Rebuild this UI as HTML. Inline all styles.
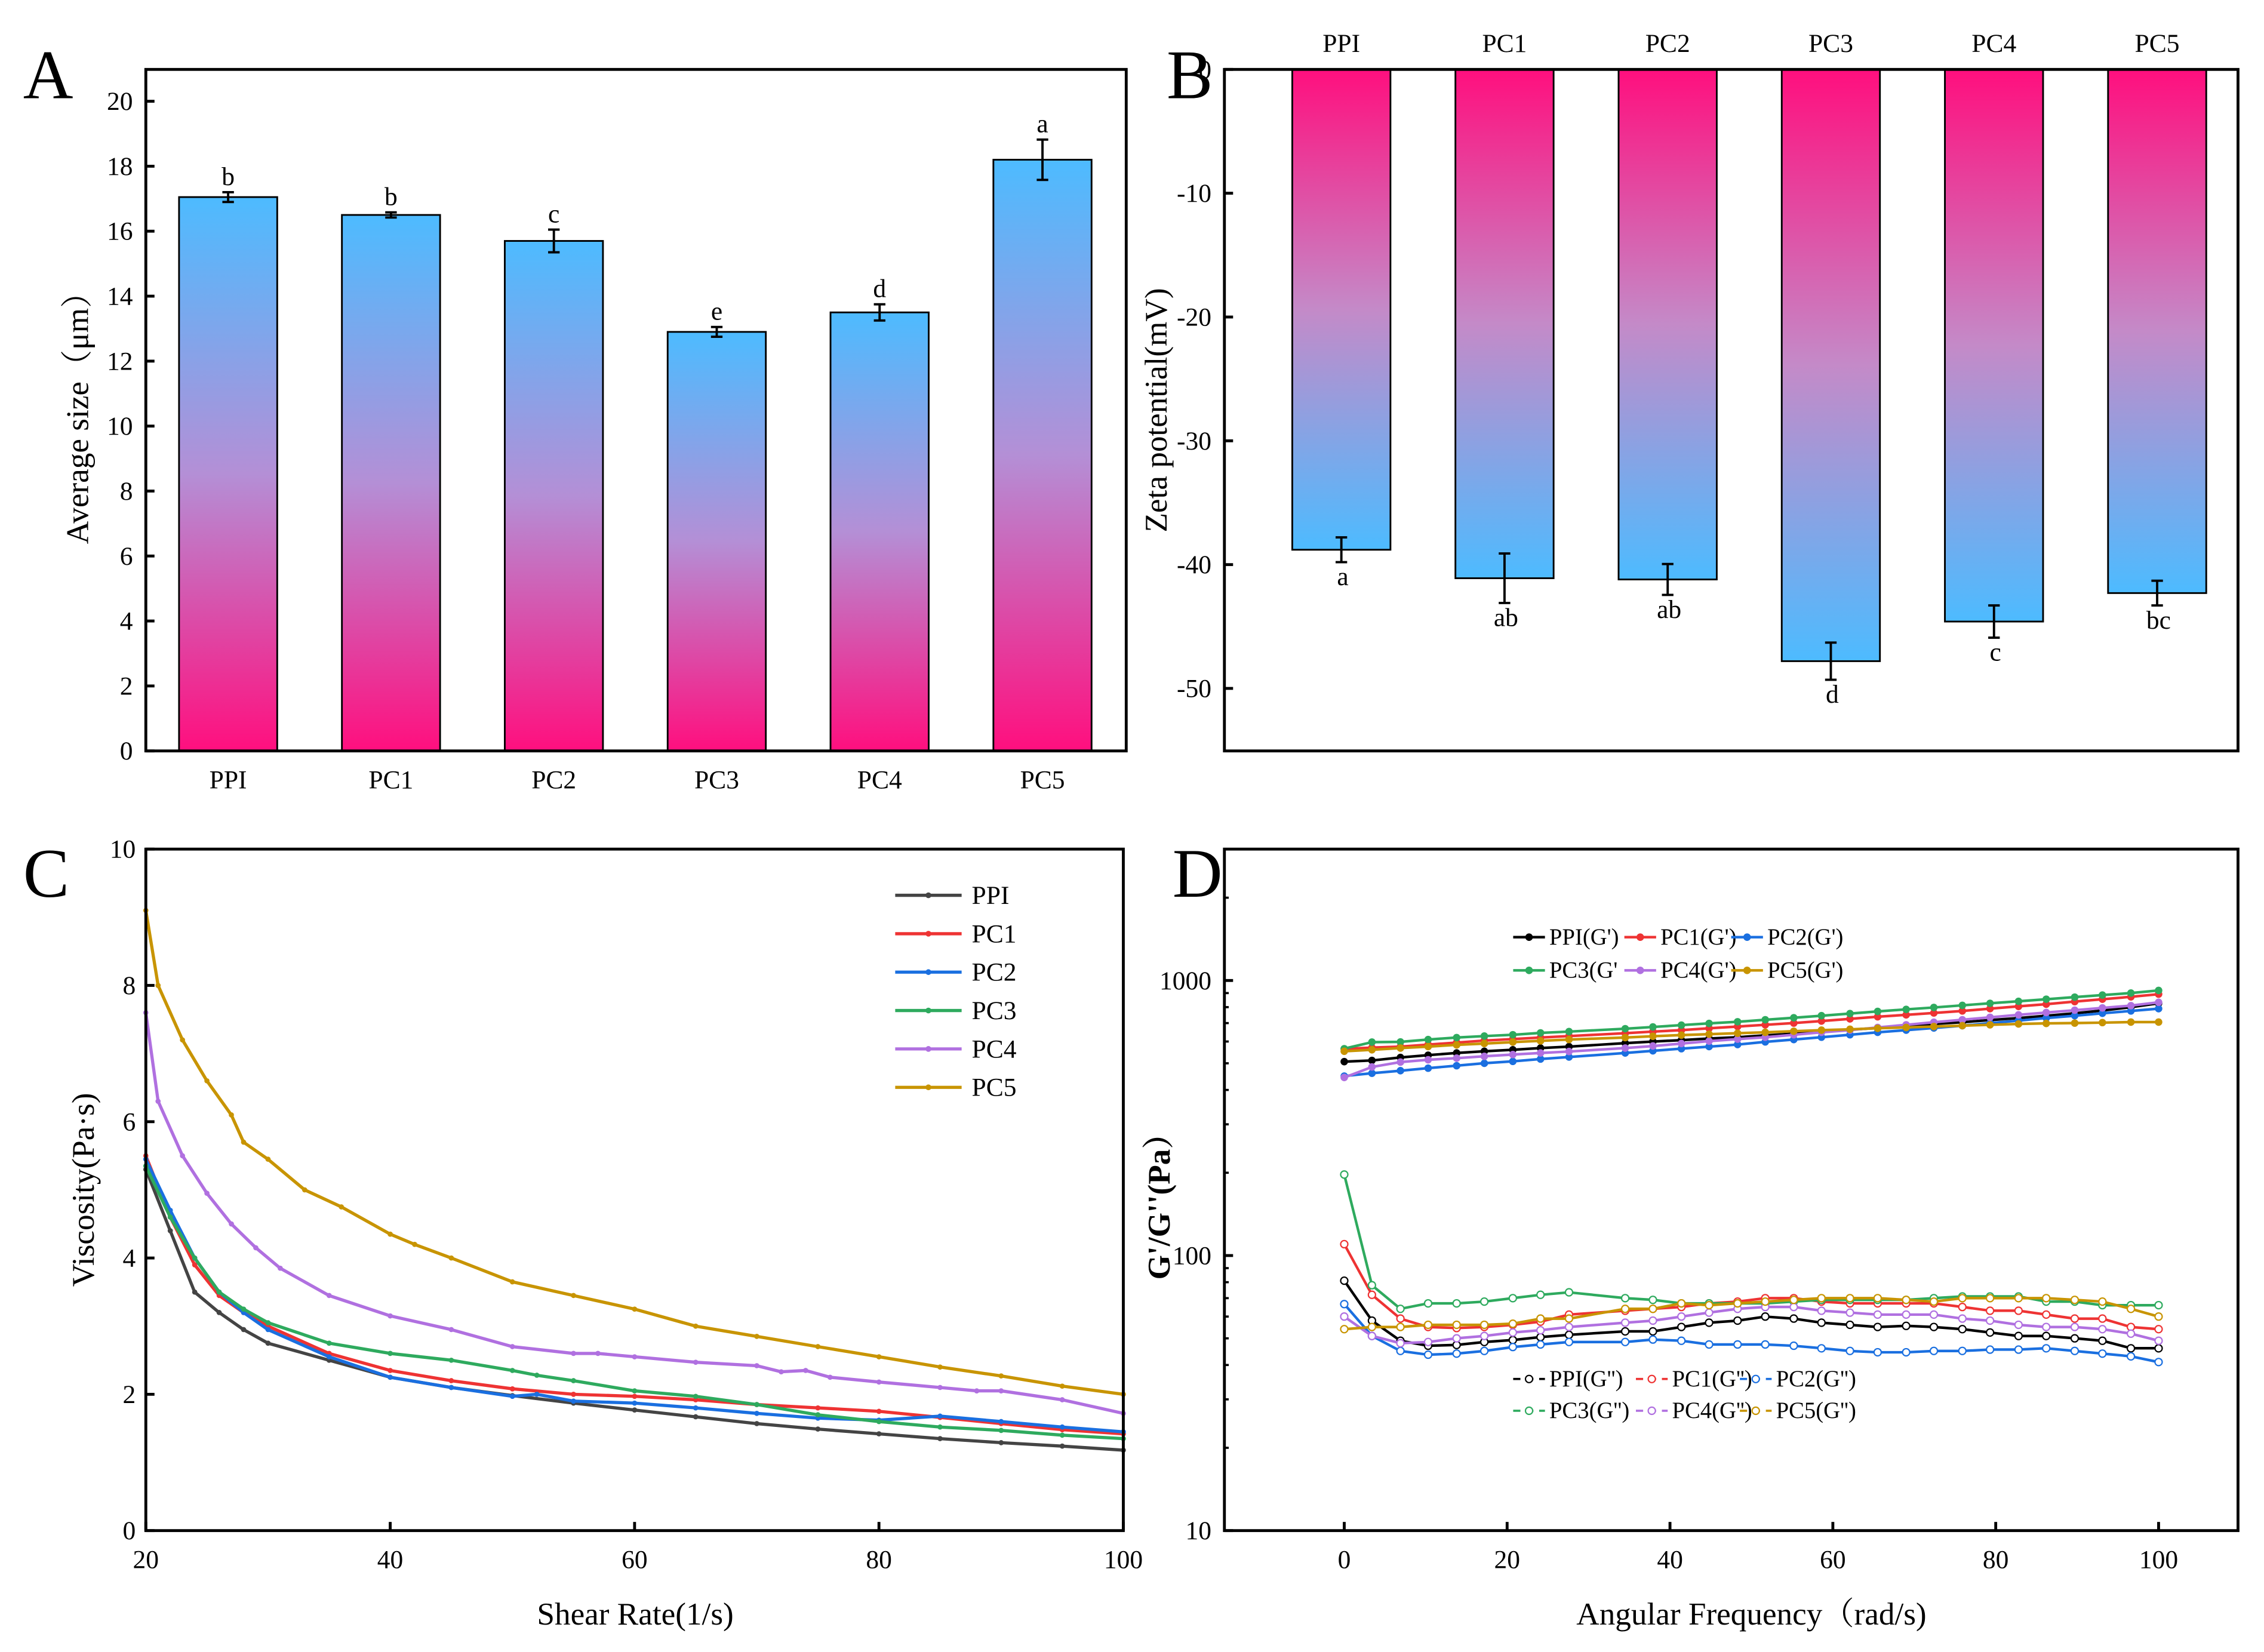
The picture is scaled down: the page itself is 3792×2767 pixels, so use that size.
<!DOCTYPE html>
<html><head><meta charset="utf-8"><style>html,body{margin:0;padding:0;background:#fff}svg{display:block}text{font-family:"Liberation Serif","Noto Serif CJK SC",serif;fill:#000}</style></head>
<body>
<svg id="fig" xmlns="http://www.w3.org/2000/svg" width="3792" height="2767" viewBox="0 0 1568 1144">
<defs>
<linearGradient id="gA" x1="0" y1="0" x2="0" y2="1"><stop offset="0" stop-color="#4dbbff"/><stop offset="0.5" stop-color="#b48fd6"/><stop offset="1" stop-color="#ff0f7e"/></linearGradient>
<linearGradient id="gB" x1="0" y1="0" x2="0" y2="1"><stop offset="0" stop-color="#ff0f7e"/><stop offset="0.5" stop-color="#c48ac8"/><stop offset="1" stop-color="#4dbbff"/></linearGradient>
</defs>
<rect width="1568" height="1144" fill="#fff"/>
</svg>
<script>
// Panel A
const catA=["PPI","PC1","PC2","PC3","PC4","PC5"];
const sizeVals=[17.05,16.5,15.7,12.9,13.5,18.2];
const sizeErr=[0.15,0.08,0.35,0.15,0.25,0.62];
const sizeLetters=["b","b","c","e","d","a"];
const sizeTicks=[0,2,4,6,8,10,12,14,16,18,20];
// Panel B
const zetaVals=[-38.8,-41.1,-41.2,-47.8,-44.6,-42.3];
const zetaErr=[1.0,2.0,1.25,1.5,1.3,1.0];
const zetaLetters=["a","ab","ab","d","c","bc"];
const zetaTicks=[0,-10,-20,-30,-40,-50];
// Panel C
const viscNames=["PPI","PC1","PC2","PC3","PC4","PC5"];
const viscColors=["#444","#ee3333","#1a6fe0","#2eaa5e","#b070e0","#c89400"];
const shearPPI=[20,22,24,26,28,30,35,40,45,50,55,60,65,70,75,80,85,90,95,100];
const viscPPI=[5.3,4.4,3.5,3.2,2.95,2.75,2.5,2.25,2.1,1.98,1.87,1.77,1.67,1.57,1.49,1.42,1.35,1.29,1.24,1.18];
const shearPC1=[20,22,24,26,28,30,35,40,45,50,55,60,65,70,75,80,85,90,95,100];
const viscPC1=[5.5,4.6,3.9,3.45,3.2,3.0,2.6,2.35,2.2,2.08,2.0,1.97,1.92,1.85,1.8,1.75,1.66,1.57,1.48,1.42];
const shearPC2=[20,22,24,26,28,30,35,40,45,50,52,55,60,65,70,75,80,85,90,95,100];
const viscPC2=[5.45,4.7,4.0,3.5,3.2,2.95,2.55,2.25,2.1,1.97,2.0,1.9,1.87,1.8,1.72,1.65,1.62,1.68,1.6,1.52,1.45];
const shearPC3=[20,22,24,26,28,30,35,40,45,50,52,55,60,65,70,75,80,85,90,95,100];
const viscPC3=[5.35,4.6,4.0,3.5,3.25,3.05,2.75,2.6,2.5,2.35,2.28,2.2,2.05,1.97,1.85,1.7,1.6,1.52,1.47,1.4,1.35];
const shearPC4=[20,21,23,25,27,29,31,35,40,45,50,55,57,60,65,70,72,74,76,80,85,88,90,95,100];
const viscPC4=[7.6,6.3,5.5,4.95,4.5,4.15,3.85,3.45,3.15,2.95,2.7,2.6,2.6,2.55,2.47,2.42,2.33,2.35,2.25,2.18,2.1,2.05,2.05,1.92,1.72];
const shearPC5=[20,21,23,25,27,28,30,33,36,40,42,45,50,55,60,65,70,75,80,85,90,95,100];
const viscPC5=[9.1,8.0,7.2,6.6,6.1,5.7,5.45,5.0,4.75,4.35,4.2,4.0,3.65,3.45,3.25,3.0,2.85,2.7,2.55,2.4,2.27,2.12,2.0];
const viscTicksY=[0,2,4,6,8,10];
const viscTicksX=[20,40,60,80,100];
// Panel D
const freq=[0,3.4,6.9,10.3,13.8,17.2,20.7,24.1,27.6,34.5,37.9,41.4,44.8,48.3,51.7,55.2,58.6,62.1,65.5,69,72.4,75.9,79.3,82.8,86.2,89.7,93.1,96.6,100];
const gpPPI=[507,512,525,535,545,553,560,568,575,592,600,607,615,622,632,641,650,662,672,682,695,705,718,730,745,760,778,800,826];
const gpPC1=[564,570,575,585,595,605,612,620,628,643,652,660,670,680,690,700,712,725,738,750,762,775,790,805,820,838,855,872,892];
const gpPC2=[449,460,470,480,490,500,508,518,527,545,555,565,575,585,598,610,622,635,648,660,672,685,700,715,730,745,760,775,790];
const gpPC3=[565,597,598,610,620,628,635,645,652,668,678,688,698,708,720,732,745,758,772,785,798,812,826,840,855,870,885,900,920];
const gpPC4=[444,485,505,515,522,530,538,545,552,568,578,590,602,612,622,635,648,660,675,690,705,720,735,750,765,780,795,810,833];
const gpPC5=[553,560,568,575,583,590,597,603,610,620,627,633,638,643,648,654,660,665,670,675,680,685,690,695,698,700,703,706,706];
const gppPPI=[81,58,49,47,47.3,48.5,49.3,50.5,51.5,53,53,55,57,58,60,59,57,56,55,55.5,55,54,52.5,51,51,50,49,46,46];
const gppPC1=[110,72,59,55,54.5,55,56,57.5,61,63,64,65,67,68,70,70,68,67,67,67,67,65,63,63,61,59,59,55,54];
const gppPC2=[66.6,51,45,43.6,44,45,46.5,47.5,48.5,48.5,49.5,49,47.5,47.5,47.5,47,46,45,44.5,44.5,45,45,45.5,45.5,46,45,44,43,41];
const gppPC3=[197,78,64,67,67,68,70,72,73.5,70,69,67,67,67,67,68,69,69,69,69,70,71,71,71,68,68,66,66,66];
const gppPC4=[60,51,48,48.5,50,51,52.5,53.5,55,57,58,60,62,64,65,65,63,62,61,61,61,59,58,56,55,55,54,52,49];
const gppPC5=[54,55,55,56,56,56,56.5,59,59,64,64,67,66,67,68,69,70,70,70,69,68,70,70,70,70,69,68,64,60];
const dTicks=[10,100,1000];
const dTicksX=[0,20,40,60,80,100];

const NS="http://www.w3.org/2000/svg";
const svg=document.getElementById('fig');
function mk(tag,attrs,parent,txt){const e=document.createElementNS(NS,tag);for(const k in attrs)e.setAttribute(k,attrs[k]);if(txt!==undefined)e.textContent=txt;(parent||svg).appendChild(e);return e;}
const TF=18, TT=22;

// ---------- Panel A ----------
const A={l:101,r:780,t:48,b:520,min:0,max:20.98};
const yA=v=>A.b-(v-A.min)/(A.max-A.min)*(A.b-A.t);
const xA=i=>158+i*112.8;
let gA=mk('g',{});


catA.forEach((c,i)=>{
  const x=xA(i),v=sizeVals[i],e=sizeErr[i];
  const r=mk('rect',{x:x-34,y:yA(v),width:68,height:yA(0)-yA(v),fill:'url(#gA)',stroke:'#000','stroke-width':1.2},gA);
  
  
  const eb=mk('path',{d:`M${x},${yA(v+e)}V${yA(v-e)}M${x-4},${yA(v+e)}H${x+4}M${x-4},${yA(v-e)}H${x+4}`,stroke:'#000','stroke-width':1.6,fill:'none'},gA);
  
  
  const lt=mk('text',{x:x,y:yA(v+e)-5,'font-size':TF,'text-anchor':'middle'},gA,sizeLetters[i]);
  
  
  const cl=mk('text',{x:x,y:546,'font-size':TF,'text-anchor':'middle'},gA,c);
  
  
});
sizeTicks.forEach(t=>{
  mk('line',{x1:A.l,x2:A.l+6,y1:yA(t),y2:yA(t),stroke:'#000','stroke-width':2},gA);
  const tl=mk('text',{x:A.l-9,y:yA(t)+6,'font-size':TF,'text-anchor':'end'},gA,t);
  
  
});
mk('rect',{x:A.l,y:A.t,width:A.r-A.l,height:A.b-A.t,fill:'none',stroke:'#000','stroke-width':2},gA);
let t=mk('text',{x:0,y:0,'font-size':TT,'text-anchor':'middle',transform:'translate(61,284) rotate(-90)'},gA,'Average size（μm）');

t=mk('text',{x:16,y:68,'font-size':48},gA,'A');


// ---------- Panel B ----------
const B={l:848,r:1550,t:48,b:520,min:-55.05,max:0};
const yB=v=>B.t+(B.max-v)/(B.max-B.min)*(B.b-B.t);
const xB=i=>929+i*113;
let gB=mk('g',{});


catA.forEach((c,i)=>{
  const x=xB(i),v=zetaVals[i],e=zetaErr[i];
  const r=mk('rect',{x:x-34,y:yB(0),width:68,height:yB(v)-yB(0),fill:'url(#gB)',stroke:'#000','stroke-width':1.2},gB);
  
  
  const eb=mk('path',{d:`M${x},${yB(v+e)}V${yB(v-e)}M${x-4},${yB(v+e)}H${x+4}M${x-4},${yB(v-e)}H${x+4}`,stroke:'#000','stroke-width':1.6,fill:'none'},gB);
  
  
  const lt=mk('text',{x:x+1,y:yB(v-e)+16,'font-size':TF,'text-anchor':'middle'},gB,zetaLetters[i]);
  
  
  const cl=mk('text',{x:x,y:36,'font-size':TF,'text-anchor':'middle'},gB,c);
  
  
});
zetaTicks.forEach(tk=>{
  mk('line',{x1:B.l,x2:B.l+6,y1:yB(tk),y2:yB(tk),stroke:'#000','stroke-width':2},gB);
  const tl=mk('text',{x:B.l-9,y:yB(tk)+6,'font-size':TF,'text-anchor':'end'},gB,tk<0?'-'+(-tk):tk);
  
  
});
mk('rect',{x:B.l,y:B.t,width:B.r-B.l,height:B.b-B.t,fill:'none',stroke:'#000','stroke-width':2},gB);
t=mk('text',{x:0,y:0,'font-size':TT,'text-anchor':'middle',transform:'translate(808,284) rotate(-90)'},gB,'Zeta potential(mV)');

t=mk('text',{x:808,y:68,'font-size':48},gB,'B');


// ---------- Panel C ----------
const C={l:101,r:778,t:588,b:1060};
const xC=v=>C.l+(v-20)/80*(C.r-C.l);
const yC=v=>C.b-v/10*(C.b-C.t);
let gC=mk('g',{});


const cx=[shearPPI,shearPC1,shearPC2,shearPC3,shearPC4,shearPC5];
const cy=[viscPPI,viscPC1,viscPC2,viscPC3,viscPC4,viscPC5];
viscNames.forEach((n,s)=>{
  const pts=cx[s].map((x,i)=>xC(x).toFixed(1)+','+yC(cy[s][i]).toFixed(1)).join(' ');
  const pl=mk('polyline',{points:pts,fill:'none',stroke:viscColors[s],'stroke-width':2.2,'stroke-linejoin':'round'},gC);
  
  
  cx[s].forEach((x,i)=>{
    const m=mk('circle',{cx:xC(x),cy:yC(cy[s][i]),r:1.8,fill:viscColors[s]},gC);
    
    
  });
  const ly=620+s*26.6;
  const lg=mk('g',{},gC);
  
  
  mk('line',{x1:620,x2:666,y1:ly,y2:ly,stroke:viscColors[s],'stroke-width':2.2},lg);
  mk('circle',{cx:643,cy:ly,r:2,fill:viscColors[s]},lg);
  mk('text',{x:673,y:ly+6,'font-size':TF},lg,n);
});
viscTicksY.forEach(tk=>{
  mk('line',{x1:C.l,x2:C.l+6,y1:yC(tk),y2:yC(tk),stroke:'#000','stroke-width':2},gC);
  const tl=mk('text',{x:C.l-7,y:yC(tk)+6,'font-size':TF,'text-anchor':'end'},gC,tk);
  
});
viscTicksX.forEach(tk=>{
  mk('line',{x1:xC(tk),x2:xC(tk),y1:C.b,y2:C.b-6,stroke:'#000','stroke-width':2},gC);
  const tl=mk('text',{x:xC(tk),y:C.b+26,'font-size':TF,'text-anchor':'middle'},gC,tk);
  
});
mk('rect',{x:C.l,y:C.t,width:C.r-C.l,height:C.b-C.t,fill:'none',stroke:'#000','stroke-width':2},gC);
t=mk('text',{x:0,y:0,'font-size':TT,'text-anchor':'middle',transform:'translate(65,824) rotate(-90)'},gC,'Viscosity(Pa·s)');

t=mk('text',{x:440,y:1125,'font-size':TT,'text-anchor':'middle'},gC,'Shear Rate(1/s)');

t=mk('text',{x:16,y:621,'font-size':48},gC,'C');


// ---------- Panel D ----------
const D={l:848,r:1550,t:588,b:1060};
const xD=v=>931+v*5.64;
const yD=v=>1060-(Math.log10(v)-1)*190.5;
let gD=mk('g',{});


const dColors=["#000","#ee3333","#1a6fe0","#2eaa5e","#b070e0","#c89400"];
const gpS=[gpPPI,gpPC1,gpPC2,gpPC3,gpPC4,gpPC5];
const gppS=[gppPPI,gppPC1,gppPC2,gppPC3,gppPC4,gppPC5];
gpS.forEach((arr,s)=>{
  const pl=mk('polyline',{points:freq.map((x,i)=>xD(x).toFixed(1)+','+yD(arr[i]).toFixed(1)).join(' '),fill:'none',stroke:dColors[s],'stroke-width':1.8},gD);
  
  
  freq.forEach((x,i)=>{const m=mk('circle',{cx:xD(x),cy:yD(arr[i]),r:2.6,fill:dColors[s]},gD);
    });
});
gppS.forEach((arr,s)=>{
  const pl=mk('polyline',{points:freq.map((x,i)=>xD(x).toFixed(1)+','+yD(arr[i]).toFixed(1)).join(' '),fill:'none',stroke:dColors[s],'stroke-width':1.8},gD);
  
  
  freq.forEach((x,i)=>{const m=mk('circle',{cx:xD(x),cy:yD(arr[i]),r:2.5,fill:'#fff',stroke:dColors[s],'stroke-width':0.9},gD);
    });
});
const lgX=[1048,1125,1199];
viscNames.forEach((n,s)=>{
  const col=s%3,row=Math.floor(s/3);
  const x=lgX[col],y=649+row*23;
  const lg=mk('g',{},gD);
  
  
  mk('line',{x1:x,x2:x+22,y1:y,y2:y,stroke:dColors[s],'stroke-width':1.8},lg);
  mk('circle',{cx:x+11,cy:y,r:2.6,fill:dColors[s]},lg);
  mk('text',{x:x+25,y:y+5,'font-size':16},lg,s===3?"PC3(G'":n+"(G')");
});
const lg2X=[1048,1133,1205];
viscNames.forEach((n,s)=>{
  const col=s%3,row=Math.floor(s/3);
  const x=lg2X[col],y=955+row*22;
  const lg=mk('g',{},gD);
  
  
  mk('line',{x1:x,x2:x+22,y1:y,y2:y,stroke:dColors[s],'stroke-width':1.5,'stroke-dasharray':'5,4'},lg);
  mk('circle',{cx:x+11,cy:y,r:2.5,fill:'#fff',stroke:dColors[s],'stroke-width':0.9},lg);
  mk('text',{x:x+25,y:y+5,'font-size':16},lg,n+"(G'')");
});
for(let d=10;d<3000;d*=10){for(let k=2;k<10;k++){const v=d*k;if(v>3000)break;
  mk('line',{x1:D.l,x2:D.l+3,y1:yD(v),y2:yD(v),stroke:'#000','stroke-width':1.5},gD);}}
dTicks.forEach(tk=>{
  mk('line',{x1:D.l,x2:D.l+6,y1:yD(tk),y2:yD(tk),stroke:'#000','stroke-width':2},gD);
  const tl=mk('text',{x:D.l-9,y:yD(tk)+6,'font-size':TF,'text-anchor':'end'},gD,tk);
  
});
dTicksX.forEach(tk=>{
  mk('line',{x1:xD(tk),x2:xD(tk),y1:D.b,y2:D.b-6,stroke:'#000','stroke-width':2},gD);
  const tl=mk('text',{x:xD(tk),y:D.b+26,'font-size':TF,'text-anchor':'middle'},gD,tk);
  
});
mk('rect',{x:D.l,y:D.t,width:D.r-D.l,height:D.b-D.t,fill:'none',stroke:'#000','stroke-width':2},gD);
t=mk('text',{x:0,y:0,'font-size':TT,'font-weight':'bold','text-anchor':'middle',transform:'translate(810,830) rotate(-90)'},gD,"G'/G''(Pa）");

t=mk('text',{x:1213,y:1125,'font-size':TT,'text-anchor':'middle'},gD,'Angular Frequency（rad/s)');

t=mk('text',{x:812,y:621,'font-size':48},gD,'D');

</script>
</body></html>
